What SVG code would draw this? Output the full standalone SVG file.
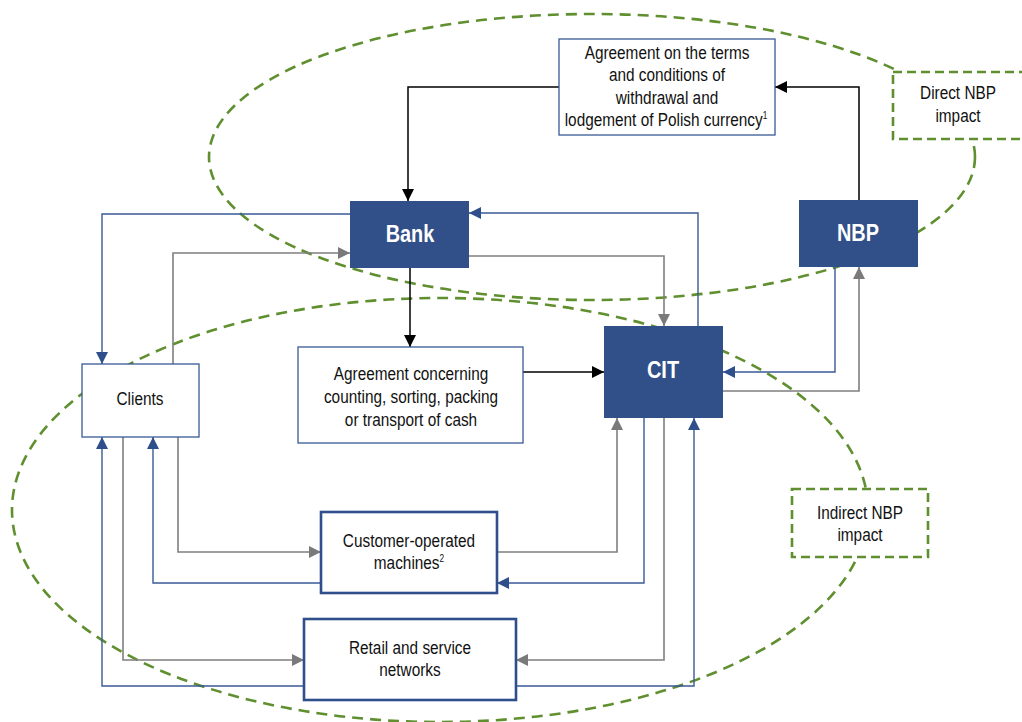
<svg xmlns="http://www.w3.org/2000/svg" width="1022" height="722" viewBox="0 0 1022 722">
<style>
.t{font-family:"Liberation Sans",Arial,sans-serif;font-size:18.5px;fill:#111;text-anchor:middle}
.tb{font-family:"Liberation Sans",Arial,sans-serif;font-size:24px;font-weight:bold;fill:#fff;text-anchor:middle}
.sup{font-size:10px}
.dark{fill:#31508a;stroke:none}
.wb{fill:#fff;stroke:#3a5994;stroke-width:1.3}
.wbt{fill:#fff;stroke:#2f4f8c;stroke-width:2.6}
.zone{fill:none;stroke:#5f8f2f;stroke-width:2.6;stroke-dasharray:11 7}
.zbox{fill:#fff;stroke:#5f8f2f;stroke-width:2.6;stroke-dasharray:9 5}
.k{fill:none;stroke:#000;stroke-width:1.5;marker-end:url(#ak)}
.b{fill:none;stroke:#3a5a96;stroke-width:1.4;marker-end:url(#ab)}
.g{fill:none;stroke:#7f7f7f;stroke-width:1.6;marker-end:url(#ag)}
</style>
<defs>
<marker id="ak" viewBox="0 0 10 10" refX="10" refY="5" markerWidth="12" markerHeight="12" orient="auto" markerUnits="userSpaceOnUse"><path d="M0,0L10,5L0,10z" fill="#000"/></marker>
<marker id="ab" viewBox="0 0 10 10" refX="10" refY="5" markerWidth="12" markerHeight="12" orient="auto" markerUnits="userSpaceOnUse"><path d="M0,0L10,5L0,10z" fill="#2f4f8c"/></marker>
<marker id="ag" viewBox="0 0 10 10" refX="10" refY="5" markerWidth="12" markerHeight="12" orient="auto" markerUnits="userSpaceOnUse"><path d="M0,0L10,5L0,10z" fill="#7a7a7a"/></marker>
</defs>
<rect width="1022" height="722" fill="#fff"/>
<g id="zones">
<ellipse class="zone" cx="592" cy="157" rx="383" ry="143"/>
<ellipse class="zone" cx="440" cy="510" rx="428" ry="212"/>
</g>
<g id="connectors">
<path class="k" d="M559,87H408V201"/>
<path class="k" d="M859,200V87H775"/>
<path class="k" d="M410,268V347"/>
<path class="k" d="M523,372H604"/>
<path class="b" d="M350,214H102V364"/>
<path class="g" d="M173,364V253H350"/>
<path class="b" d="M698,326V213H469"/>
<path class="g" d="M469,256H664V326"/>
<path class="b" d="M835,267V372H723"/>
<path class="g" d="M723,391H859V267"/>
<path class="g" d="M178,437V552H321"/>
<path class="b" d="M321,583H153V437"/>
<path class="g" d="M497,552H617V418"/>
<path class="b" d="M644,418V583H497"/>
<path class="g" d="M123,437V660H304"/>
<path class="b" d="M304,686H102V437"/>
<path class="g" d="M664,418V660H516"/>
<path class="b" d="M516,686H694V418"/>
</g>
<g id="n-agreement-terms">
<rect class="wb" x="559" y="39" width="216" height="96"/>
<text class="t" transform="translate(667 59) scale(.83 1)">Agreement on the terms</text>
<text class="t" transform="translate(667 81) scale(.83 1)">and conditions of</text>
<text class="t" transform="translate(667 104) scale(.83 1)">withdrawal and</text>
<text class="t" transform="translate(666 126) scale(.83 1)">lodgement of Polish currency<tspan class="sup" dy="-7">1</tspan></text>
</g>
<g id="n-direct">
<rect class="zbox" x="893" y="72" width="135" height="67"/>
<text class="t" transform="translate(958 99) scale(.83 1)">Direct NBP</text>
<text class="t" transform="translate(958 122) scale(.83 1)">impact</text>
</g>
<g id="n-bank">
<rect class="dark" x="350" y="201" width="119" height="67"/>
<text class="tb" transform="translate(410 242) scale(.83 1)">Bank</text>
</g>
<g id="n-nbp">
<rect class="dark" x="799" y="200" width="119" height="67"/>
<text class="tb" transform="translate(858 241) scale(.83 1)">NBP</text>
</g>
<g id="n-cit">
<rect class="dark" x="604" y="326" width="119" height="92"/>
<text class="tb" transform="translate(663 378) scale(.83 1)">CIT</text>
</g>
<g id="n-clients">
<rect class="wb" x="82" y="364" width="117" height="73"/>
<text class="t" transform="translate(140 405) scale(.83 1)">Clients</text>
</g>
<g id="n-agreement-cash">
<rect class="wb" x="298" y="347" width="225" height="96"/>
<text class="t" transform="translate(411 380) scale(.83 1)">Agreement concerning</text>
<text class="t" transform="translate(411 403) scale(.83 1)">counting, sorting, packing</text>
<text class="t" transform="translate(411 426) scale(.83 1)">or transport of cash</text>
</g>
<g id="n-machines">
<rect class="wbt" x="321" y="512" width="176" height="81"/>
<text class="t" transform="translate(409 547) scale(.83 1)">Customer-operated</text>
<text class="t" transform="translate(409 569) scale(.83 1)">machines<tspan class="sup" dy="-7">2</tspan></text>
</g>
<g id="n-retail">
<rect class="wbt" x="304" y="619" width="212" height="81"/>
<text class="t" transform="translate(410 654) scale(.83 1)">Retail and service</text>
<text class="t" transform="translate(410 676) scale(.83 1)">networks</text>
</g>
<g id="n-indirect">
<rect class="zbox" x="792" y="489" width="136" height="68"/>
<text class="t" transform="translate(860 519) scale(.83 1)">Indirect NBP</text>
<text class="t" transform="translate(860 541) scale(.83 1)">impact</text>
</g>
</svg>
